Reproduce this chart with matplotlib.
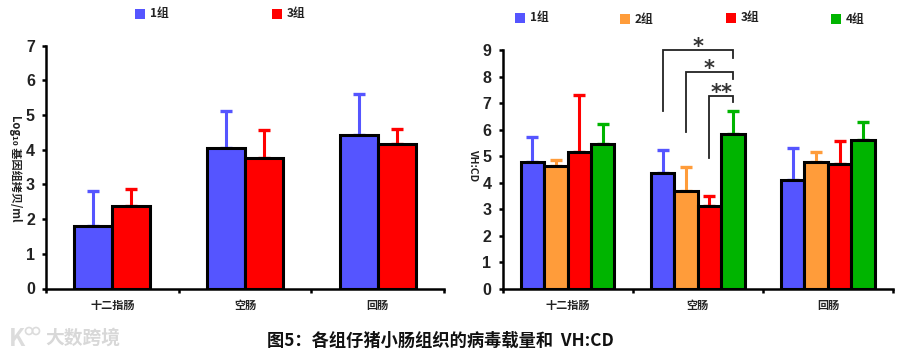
import matplotlib
matplotlib.use('Agg')
import matplotlib.pyplot as plt
import numpy as np
from matplotlib.patches import Rectangle, Ellipse

plt.rcParams['font.family'] = ['Noto Sans CJK SC', 'DejaVu Sans']

intestine = ['十二指肠', '空肠', '回肠']

# left panel
load_g1 = [1.80, 4.05, 4.43]
load_g3 = [2.37, 3.75, 4.18]
load_g1_top = [2.82, 5.13, 5.60]
load_g3_top = [2.87, 4.57, 4.60]

# right panel
vhcd_g1 = [4.80, 4.35, 4.10]
vhcd_g2 = [4.65, 3.68, 4.77]
vhcd_g3 = [5.15, 3.12, 4.72]
vhcd_g4 = [5.45, 5.83, 5.62]
vhcd_g1_top = [5.73, 5.25, 5.30]
vhcd_g2_top = [4.87, 4.60, 5.15]
vhcd_g3_top = [7.30, 3.50, 5.57]
vhcd_g4_top = [6.20, 6.70, 6.27]

BLUE = '#5555ff'
ORANGE = '#ff9c3a'
RED = '#ff0000'
GREEN = '#00b400'
W, H = 900, 355

fig = plt.figure(figsize=(9, 3.55), dpi=100)


def make_axes(x0, x1, y_top, y_bot):
    return fig.add_axes([x0 / W, 1 - y_bot / H, (x1 - x0) / W, (y_bot - y_top) / H])


def draw_group(ax, x, vals, tops, color, width):
    ax.bar(x, vals, width, color=color, edgecolor='black', linewidth=2.2, zorder=3)
    err = np.array(tops) - np.array(vals)
    ax.errorbar(x, vals, yerr=[np.zeros(len(err)), err], fmt='none', ecolor=color,
                elinewidth=2.2, capsize=4, capthick=2.4, zorder=2)


def style_axes(ax, ymax):
    ax.set_xlim(0, 3)
    ax.set_ylim(0, ymax)
    ax.spines['top'].set_visible(False)
    ax.spines['right'].set_visible(False)
    ax.spines['left'].set_linewidth(1.8)
    ax.spines['bottom'].set_linewidth(1.8)
    ax.patch.set_alpha(0)
    ax.set_yticks(range(ymax + 1))
    ax.set_yticklabels(range(ymax + 1), family='Liberation Sans', fontweight='bold', fontsize=11.5, color='#222222')
    ax.tick_params(axis='y', length=3, width=1.8, pad=5)
    # ticks sit between the categories, labels at the category centres
    ax.set_xticks([0, 1, 2, 3])
    ax.set_xticklabels([])
    ax.tick_params(axis='x', direction='out', length=3, width=1.8)
    for i, name in enumerate(intestine):
        ax.text(i + 0.5, -0.07, name, transform=ax.get_xaxis_transform(), ha='center', va='center',
                fontsize=8, fontweight='bold', color='#222222')


def legend_item(x, y, label, color):
    fig.add_artist(Rectangle((x / W, 1 - (y + 5) / H), 10 / W, 10 / H, transform=fig.transFigure,
                             facecolor=color, edgecolor='none'))
    fig.text((x + 15) / W, 1 - y / H, label, ha='left', va='center', fontsize=8.5,
             fontweight='bold', color='#222222')


# left
ax1 = make_axes(46, 444, 45.7, 288.5)
pos = np.arange(3) + 0.5
draw_group(ax1, pos - 0.143, load_g1, load_g1_top, BLUE, 0.286)
draw_group(ax1, pos + 0.143, load_g3, load_g3_top, RED, 0.286)
style_axes(ax1, 7)
fig.text(15 / W, 1 - 115 / H, 'Log₁₀ 基因组拷贝/ml', rotation=270, ha='center', va='top', fontsize=8,
         fontweight='bold', color='#222222', family=['Noto Sans CJK SC', 'DejaVu Sans'])

legend_item(135, 14, '1组', BLUE)
legend_item(272, 14, '3组', RED)

# right
ax2 = make_axes(502.5, 893, 50, 289)
w = 0.18
series = [(vhcd_g1, vhcd_g1_top, BLUE), (vhcd_g2, vhcd_g2_top, ORANGE),
          (vhcd_g3, vhcd_g3_top, RED), (vhcd_g4, vhcd_g4_top, GREEN)]
centres = []
for i, (vals, tops, color) in enumerate(series):
    x = pos + (i - 1.5) * w
    centres.append(x)
    draw_group(ax2, x, vals, tops, color, w)
style_axes(ax2, 9)
fig.text(473 / W, 1 - 165 / H, 'VH:CD', rotation=270, ha='center', va='center', fontsize=7.5,
         fontweight='bold', color='#222222')

# significance brackets in the jejunum group, all ending above group 4
right_x = centres[3][1]
brackets = [(centres[0][1], 9.0, 8.7, 6.7, '*'),
            (centres[1][1], 8.18, 7.9, 5.9, '*'),
            (centres[2][1], 7.28, 7.03, 4.93, '**')]
for left_x, top, right_end, left_end, mark in brackets:
    ax2.plot([left_x, left_x, right_x, right_x], [left_end, top, top, right_end], color='#222222',
             lw=1.3, clip_on=False, solid_joinstyle='miter', zorder=5)
    ax2.text((left_x + right_x) / 2, top + 0.1, mark, ha='center', va='center', fontsize=15,
             family='DejaVu Sans', fontweight='bold', color='#333333', clip_on=False)

legend_item(515, 18, '1组', BLUE)
legend_item(620, 19, '2组', ORANGE)
legend_item(726, 18, '3组', RED)
legend_item(831, 19, '4组', GREEN)

# caption
fig.text(440 / W, 1 - 341 / H, '图5：各组仔猪小肠组织的病毒载量和  VH:CD', ha='center', va='center',
         fontsize=12.4, fontweight='bold', color='#111111')

# watermark
LOGO = '#dcdcdc'
fig.text(9 / W, 1 - 339 / H, 'K', ha='left', va='center', fontsize=17, fontweight='bold', color=LOGO)
for cx in (29, 36):
    fig.add_artist(Ellipse((cx / W, 1 - 331 / H), 7 / W, 7 / H, transform=fig.transFigure,
                           fill=False, ec=LOGO, lw=1.2))
fig.text(45 / W, 1 - 338 / H, '大数跨境', ha='left', va='center', fontsize=13.5, color='#d8d8d8', fontweight='bold')

fig.savefig('out.png', dpi=100)
